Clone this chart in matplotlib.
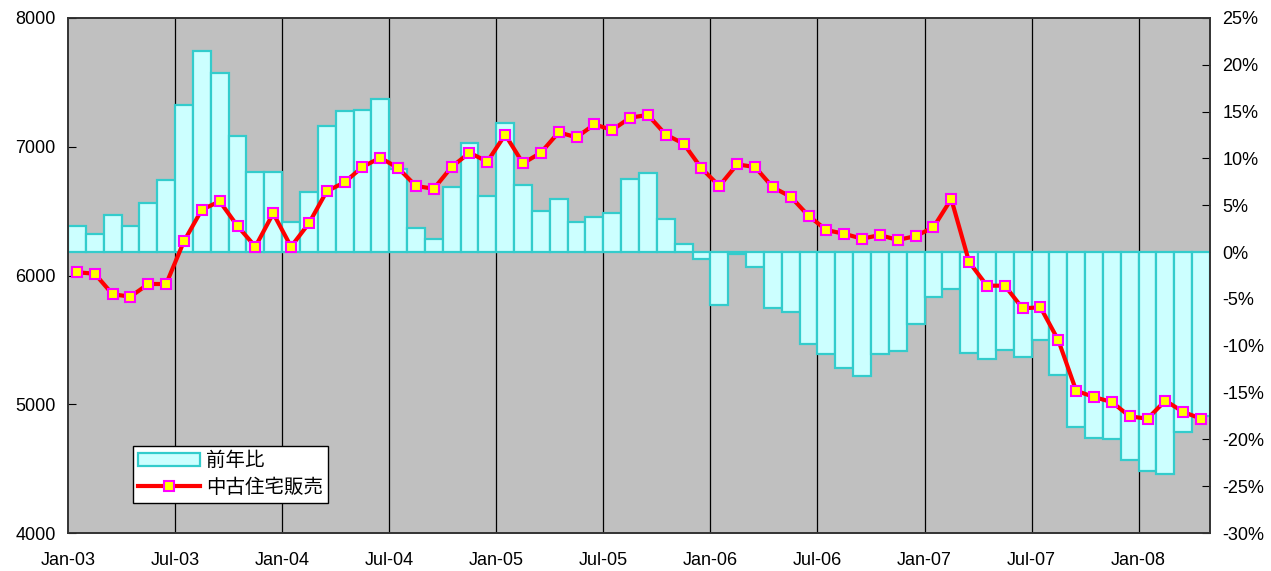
import matplotlib
matplotlib.use("Agg")
import matplotlib.pyplot as plt
from matplotlib.patches import Patch
from matplotlib.lines import Line2D
import numpy as np

plt.rcParams['font.family'] = ['Liberation Sans', 'DejaVu Sans']

tick_labels = ["Jan-03", "Jul-03", "Jan-04", "Jul-04", "Jan-05", "Jul-05",
               "Jan-06", "Jul-06", "Jan-07", "Jul-07", "Jan-08"]

yoy = [2.8, 1.9, 3.95, 2.8, 5.2, 7.7, 15.7, 21.5, 19.1, 12.4, 8.6, 8.6,
       3.2, 6.4, 13.5, 15.1, 15.2, 16.4, 8.9, 2.6, 1.4, 7.0, 11.6, 6.0,
       13.8, 7.2, 4.4, 5.7, 3.2, 3.7, 4.2, 7.8, 8.4, 3.5, 0.85, -0.7,
       -5.7, -0.2, -1.6, -6.0, -6.4, -9.8, -10.9, -12.4, -13.2, -10.9, -10.6, -7.7,
       -4.8, -3.9, -10.8, -11.4, -10.5, -11.2, -9.4, -13.1, -18.7, -19.9, -20.0, -22.2,
       -23.4, -23.7, -19.2, -17.5]

sales = [6025, 6014, 5854, 5836, 5934, 5934, 6266, 6511, 6576, 6384, 6224, 6483,
         6224, 6405, 6654, 6724, 6843, 6915, 6835, 6695, 6674, 6843, 6954, 6884,
         7094, 6871, 6954, 7112, 7073, 7174, 7130, 7226, 7247, 7094, 7024, 6833,
         6695, 6863, 6843, 6685, 6612, 6464, 6353, 6324, 6286, 6314, 6276, 6306,
         6374, 6594, 6105, 5921, 5921, 5745, 5753, 5497, 5105, 5056, 5017, 4906,
         4888, 5028, 4940, 4888]

series_names = ["前年比", "中古住宅販売"]

n = len(yoy)
x = np.arange(n)

fig = plt.figure(figsize=(12.71, 5.71), dpi=100)
fig.patch.set_facecolor('white')
ax_bar = fig.add_axes([68/1271, 1-533/571, (1210-68)/1271, (533-18)/571])
ax_bar.set_facecolor('#C0C0C0')
ax_line = ax_bar.twinx()

# gridlines (behind bars)
tick_pos = np.arange(0, n, 6) - 0.5
for tp in tick_pos[1:]:
    ax_bar.axvline(tp, color='black', lw=0.9, zorder=0.5)

ax_bar.bar(x, yoy, width=1.0, color='#CCFFFF', edgecolor='#33CCCC',
           linewidth=1.6, zorder=2)
ax_bar.set_ylim(-30, 25)
ax_bar.set_yticks(np.arange(-30, 26, 5))
ax_bar.set_yticklabels([f"{v}%" for v in range(-30, 26, 5)])
ax_bar.set_xlim(-0.5, n - 0.5)
ax_bar.set_xticks(tick_pos)
ax_bar.set_xticklabels(tick_labels)
ax_bar.tick_params(axis='x', length=0, pad=14, labelsize=13)
ax_bar.yaxis.set_ticks_position('right')
ax_bar.yaxis.set_label_position('right')
ax_bar.tick_params(axis='y', direction='in', length=6, pad=9, labelsize=13,
                   right=True, left=False, labelright=True, labelleft=False)

ax_line.plot(x, sales, color='#FF0000', lw=3.0, marker='s', markersize=7,
             markerfacecolor='#FFFF00', markeredgecolor='#FF00FF',
             markeredgewidth=1.5, zorder=3)
ax_line.set_ylim(4000, 8000)
ax_line.set_yticks(np.arange(4000, 8001, 1000))
ax_line.yaxis.set_ticks_position('left')
ax_line.yaxis.set_label_position('left')
ax_line.tick_params(axis='y', direction='in', length=6, pad=9, labelsize=13,
                    left=True, right=False, labelleft=True, labelright=False)
ax_line.set_xlim(-0.5, n - 0.5)

for a in (ax_bar, ax_line):
    for s in a.spines.values():
        s.set_color('#333333')
        s.set_linewidth(1.2)

handles = [Patch(facecolor='#CCFFFF', edgecolor='#33CCCC', linewidth=1.6),
           Line2D([0], [0], color='#FF0000', lw=3.0, marker='s', markersize=7,
                  markerfacecolor='#FFFF00', markeredgecolor='#FF00FF',
                  markeredgewidth=1.5)]
leg = ax_line.legend(handles, series_names, loc='lower left',
                     bbox_to_anchor=(0.057, 0.058), frameon=True, fancybox=False,
                     edgecolor='black', framealpha=1, borderpad=0.25,
                     borderaxespad=0.0,
                     handlelength=3.2, handletextpad=0.3, labelspacing=0.3,
                     prop={'family': ['Noto Sans CJK JP', 'DejaVu Sans'], 'size': 14})
leg.get_frame().set_linewidth(1.0)

fig.savefig('out.png', dpi=100)
